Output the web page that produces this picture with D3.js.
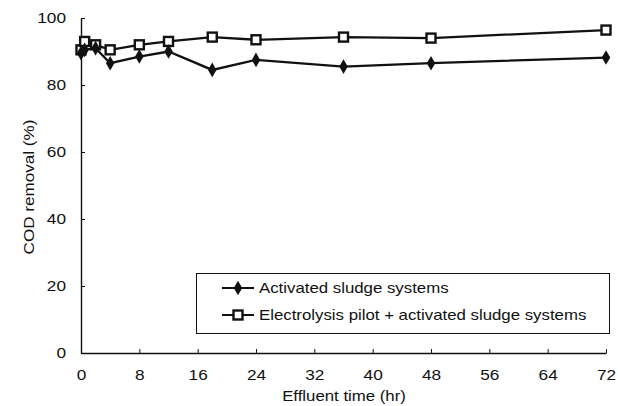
<!DOCTYPE html>
<html>
<head>
<meta charset="utf-8">
<script src="https://cdn.jsdelivr.net/npm/d3@7"></script>
<style>
  html, body { margin: 0; padding: 0; background: #fff; }
  svg { display: block; font-family: "Liberation Sans", Arial, Helvetica, sans-serif; }
</style>
</head>
<body>
<svg id="chart" width="618" height="406"></svg>
<script>
// Effluent sampling times (hr)
const times = [0, 0.5, 2, 4, 8, 12, 18, 24, 36, 48, 72];
// COD removal (%) for each treatment
const activatedSludge = [89.5, 90.5, 91, 86.5, 88.5, 90, 84.5, 87.5, 85.5, 86.5, 88.2];
const electrolysisPlus = [90.5, 93, 92, 90.5, 92, 93, 94.3, 93.5, 94.3, 94, 96.4];
// Axis ticks
const xTicks = [0, 8, 16, 24, 32, 40, 48, 56, 64, 72];
const yTicks = [0, 20, 40, 60, 80, 100];
const seriesNames = ["Activated sludge systems", "Electrolysis pilot + activated sludge systems"];

const svg = d3.select("#chart");
const margin = { left: 81, right: 12, top: 18, bottom: 53 };
const W = 618, H = 406;

const x = d3.scaleLinear().domain([0, 72]).range([margin.left, W - margin.right]);
const y = d3.scaleLinear().domain([0, 100]).range([H - margin.bottom, margin.top]);

const ink = "#111";
const wide = 1.15; // glyphs are set slightly wide

// X axis with ticks pointing into the plot
const xAxis = svg.append("g")
  .attr("transform", `translate(0,${y(0)})`)
  .call(d3.axisBottom(x).tickValues(xTicks).tickSizeInner(-4).tickSizeOuter(0).tickPadding(16));
// Y axis with ticks pointing into the plot
const yAxis = svg.append("g")
  .attr("transform", `translate(${x(0)},0)`)
  .call(d3.axisLeft(y).tickValues(yTicks).tickSizeInner(-4).tickSizeOuter(0).tickPadding(15));

[xAxis, yAxis].forEach(g => {
  g.select(".domain").attr("stroke", ink).attr("stroke-width", 1.4);
  g.selectAll(".tick line").attr("stroke", ink).attr("stroke-width", 1);
  g.selectAll(".tick text").attr("fill", ink).style("font-size", "15px");
});
xAxis.selectAll(".tick text")
  .attr("dy", "0.71em")
  .attr("transform", `scale(${wide},1)`);
yAxis.selectAll(".tick text")
  .attr("x", -15 / wide)
  .attr("transform", `scale(${wide},1)`);

// Axis titles
svg.append("text")
  .attr("transform", `translate(344,401) scale(1.12,1)`)
  .attr("text-anchor", "middle")
  .attr("fill", ink).style("font-size", "15px")
  .text("Effluent time (hr)");
svg.append("text")
  .attr("transform", `translate(34,187) rotate(-90) scale(1.14,1)`)
  .attr("text-anchor", "middle")
  .attr("fill", ink).style("font-size", "15px")
  .text("COD removal (%)");

const line = d3.line().x(d => x(d[0])).y(d => y(d[1]));
const seriesA = times.map((t, i) => [t, activatedSludge[i]]);
const seriesB = times.map((t, i) => [t, electrolysisPlus[i]]);

function drawSeries(data) {
  svg.append("path")
    .datum(data)
    .attr("fill", "none")
    .attr("stroke", ink)
    .attr("stroke-width", 2.3)
    .attr("d", line);
}
drawSeries(seriesB);
drawSeries(seriesA);

const diamond = d3.symbol().type(d3.symbolDiamond).size(62);

function drawDiamonds(g, pts) {
  g.selectAll(null).data(pts).enter().append("path")
    .attr("d", diamond)
    .attr("transform", d => `translate(${d[0]},${d[1]})`)
    .attr("fill", ink);
}
function drawSquares(g, pts) {
  g.selectAll(null).data(pts).enter().append("rect")
    .attr("x", d => d[0] - 4.5).attr("y", d => d[1] - 4.5)
    .attr("width", 9).attr("height", 9)
    .attr("fill", "#fff").attr("stroke", ink).attr("stroke-width", 2.4);
}
drawSquares(svg.append("g"), seriesB.map(d => [x(d[0]), y(d[1])]));
drawDiamonds(svg.append("g"), seriesA.map(d => [x(d[0]), y(d[1])]));

// Legend
const legend = svg.append("g");
legend.append("rect")
  .attr("x", 196.5).attr("y", 273.5)
  .attr("width", 413).attr("height", 60)
  .attr("fill", "#fff").attr("stroke", ink).attr("stroke-width", 1);
const rows = [288, 315];
rows.forEach((ry, i) => {
  legend.append("line")
    .attr("x1", 222).attr("x2", 254).attr("y1", ry).attr("y2", ry)
    .attr("stroke", ink).attr("stroke-width", 2);
  legend.append("text")
    .attr("transform", `translate(259,${ry}) scale(1.16,1)`)
    .attr("dy", "0.35em")
    .attr("fill", ink).style("font-size", "14.5px")
    .text(seriesNames[i]);
});
drawDiamonds(legend, [[238, rows[0]]]);
drawSquares(legend, [[238, rows[1]]]);
</script>
</body>
</html>
